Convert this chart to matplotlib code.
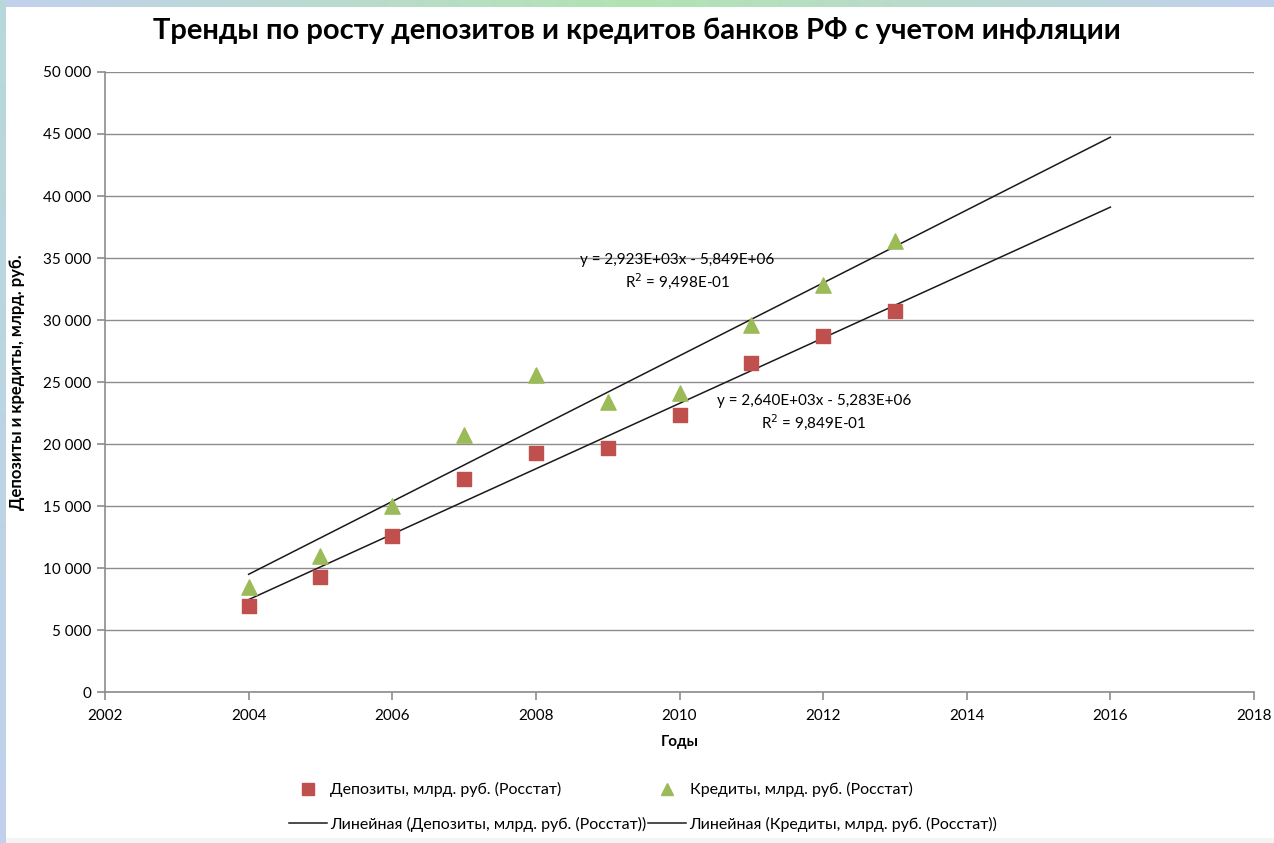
import numpy as np
import matplotlib
matplotlib.use("Agg")
import matplotlib.pyplot as plt
from matplotlib.lines import Line2D
from matplotlib.ticker import FuncFormatter

plt.rcParams['font.family'] = ['Lato', 'DejaVu Sans']

years = [2004, 2005, 2006, 2007, 2008, 2009, 2010, 2011, 2012, 2013]
deposits = [6900, 9300, 12600, 17200, 19300, 19700, 22300, 26500, 28700, 30700]
credits = [8500, 11000, 15000, 20700, 25600, 23400, 24100, 29600, 32800, 36400]

dep_label = "Депозиты, млрд. руб. (Росстат)"
cred_label = "Кредиты, млрд. руб. (Росстат)"
dep_eq = "y = 2,640E+03x - 5,283E+06\nR$^2$ = 9,849E-01"
cred_eq = "y = 2,923E+03x - 5,849E+06\nR$^2$ = 9,498E-01"

W, H = 1274, 843
fig = plt.figure(figsize=(W / 100, H / 100), dpi=100)

# frame around the picture (gradient strips)
bg = np.ones((H, W, 3))
blue = np.array([0.76, 0.82, 0.93])
green = np.array([0.70, 0.89, 0.70])
teal = np.array([0.72, 0.85, 0.85])
t = np.linspace(0, 1, W)
w = np.clip(1 - np.abs(t - 0.5) * 2, 0, 1)[:, None]
bg[:7, :, :] = (blue * (1 - w) + green * w)[None, :, :]
s = np.linspace(0, 1, H)[:, None]
bg[:, :6, :] = (teal * (1 - s) + blue * s)[:, None, :]
bg[838:, 6:, :] = 0.96
bax = fig.add_axes([0, 0, 1, 1], zorder=-10)
bax.imshow(bg, aspect='auto', extent=[0, 1, 0, 1])
bax.axis('off')

ax = fig.add_axes([105 / W, 1 - 692 / H, (1254 - 105) / W, (692 - 72) / H])
ax.set_xlim(2002, 2018)
ax.set_ylim(0, 50000)
ax.set_xticks(range(2002, 2019, 2))
ax.set_yticks(range(0, 50001, 5000))
ax.yaxis.set_major_formatter(FuncFormatter(lambda v, p: f"{int(v):,}".replace(",", " ")))
ax.grid(axis='y', color='#8c8c8c', linewidth=1)
ax.set_axisbelow(True)
for side in ['top', 'right']:
    ax.spines[side].set_visible(False)
for side in ['left', 'bottom']:
    ax.spines[side].set_color('#8c8c8c')
    ax.spines[side].set_linewidth(1.2)
ax.tick_params(color='#8c8c8c', length=6, width=1.2, labelsize=11, pad=4)
ax.tick_params(axis='x', pad=6)

ax.scatter(years, deposits, marker='s', s=115, color='#c0504d', zorder=3)
ax.scatter(years, credits, marker='^', s=120, color='#9bbb59', zorder=3)

xt = np.array([2004, 2016])
for vals in (deposits, credits):
    k, b = np.polyfit(years, vals, 1)
    ax.plot(xt, k * xt + b, color='#1a1a1a', linewidth=1.1, zorder=2)

ax.text(2009.97, 33900, cred_eq, ha='center', va='center', fontsize=11, linespacing=1.25)
ax.text(2011.87, 22500, dep_eq, ha='center', va='center', fontsize=11, linespacing=1.25)

ax.set_xlabel("Годы", fontsize=11, fontweight='bold', labelpad=9)
ax.set_ylabel("Депозиты и кредиты, млрд. руб.", fontsize=12, fontweight='bold')
ax.yaxis.set_label_coords((25 - 105) / (1254 - 105), 0.5)

fig.text(0.5, 1 - 30 / H, "Тренды по росту депозитов и кредитов банков РФ с учетом инфляции",
         ha='center', va='center', fontsize=21, fontweight='bold')

handles = [
    Line2D([], [], marker='s', linestyle='none', markersize=9, color='#c0504d'),
    Line2D([], [], color='#1a1a1a', linewidth=1.1),
    Line2D([], [], marker='^', linestyle='none', markersize=9, color='#9bbb59'),
    Line2D([], [], color='#1a1a1a', linewidth=1.1),
]
labels = [dep_label, "Линейная (" + dep_label + ")", cred_label, "Линейная (" + cred_label + ")"]
fig.legend(handles, labels, ncol=2, loc='center', bbox_to_anchor=(643 / W, 1 - 807 / H),
           frameon=False, fontsize=11.5, columnspacing=0.1, handlelength=2.4, handletextpad=0.2,
           labelspacing=1.2)

fig.savefig("out.png", dpi=100)
